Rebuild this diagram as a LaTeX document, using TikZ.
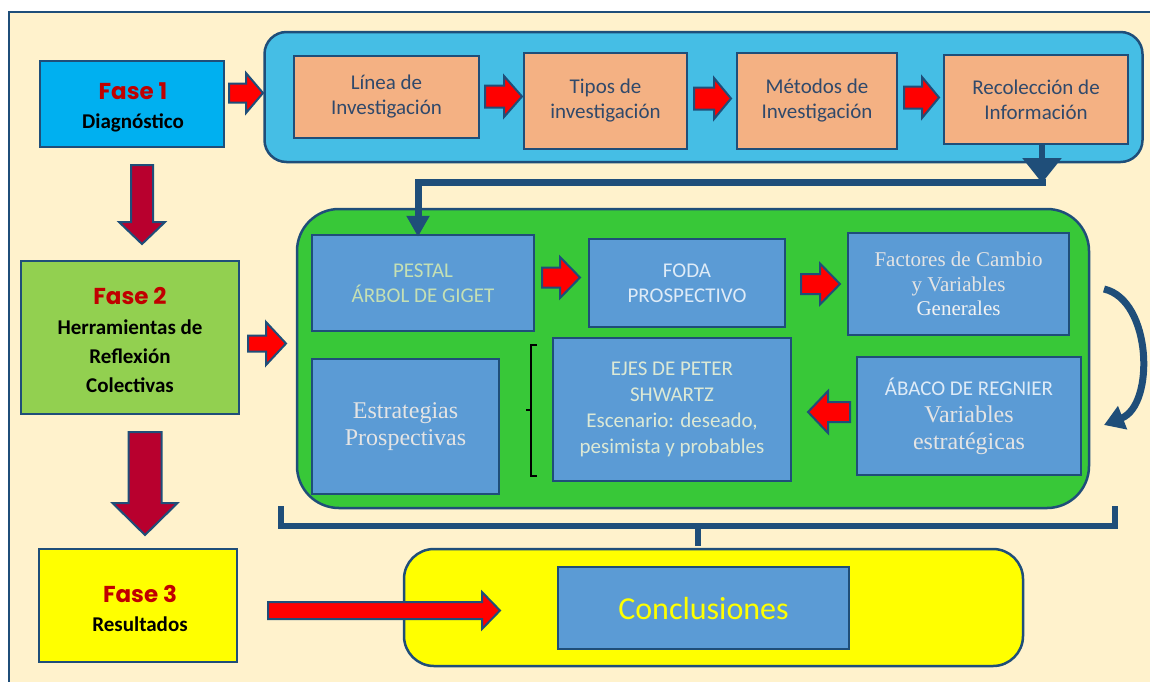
\documentclass[tikz,border=0pt]{standalone}
\usepackage{fontspec}
\setmainfont{Carlito}
\newfontfamily\serifx{Liberation Serif}
\newfontfamily\comicx{Poppins}
\usetikzlibrary{arrows.meta}
\definecolor{cream}{HTML}{FFF2CC}
\definecolor{dblue}{HTML}{1F4E79}
\definecolor{faseone}{HTML}{00B0F0}
\definecolor{fasetwo}{HTML}{92D050}
\definecolor{yel}{HTML}{FFFF00}
\definecolor{grpblue}{HTML}{45BEE5}
\definecolor{orangebox}{HTML}{F4B183}
\definecolor{grpgreen}{HTML}{38C838}
\definecolor{boxblue}{HTML}{5B9BD5}
\definecolor{darkred}{HTML}{B8002E}
\definecolor{redfill}{HTML}{FF0000}
\definecolor{fasered}{HTML}{C00000}
\definecolor{toptext}{HTML}{30496B}
\definecolor{greentext}{HTML}{C5E0B4}
\definecolor{lighttext}{HTML}{DEEBF7}
\definecolor{greytext}{HTML}{E4E4E4}
\definecolor{ejestext}{HTML}{DCE9D5}
\newcommand{\harrow}[7][redfill]{%
  \draw[blockarrow, fill=#1] (#2,{#4-(#5)}) -- ({#3-(#7)},{#4-(#5)}) -- ({#3-(#7)},{#4-(#6)}) -- (#3,#4) -- ({#3-(#7)},{#4+(#6)}) -- ({#3-(#7)},{#4+(#5)}) -- (#2,{#4+(#5)}) -- cycle;}
\newcommand{\varrow}[6]{%
  \draw[blockarrow, fill=darkred] ({#1-(#4)},#2) -- ({#1+(#4)},#2) -- ({#1+(#4)},{#3-(#6)}) -- ({#1+(#5)},{#3-(#6)}) -- (#1,#3) -- ({#1-(#5)},{#3-(#6)}) -- ({#1-(#4)},{#3-(#6)}) -- cycle;}
\begin{document}
\begin{tikzpicture}[x=1pt,y=-1pt,
  box/.style={draw=dblue, line width=2.5pt, inner sep=0pt, align=center},
  group/.style={draw=dblue, line width=2.5pt, inner sep=0pt},
  blockarrow/.style={draw=dblue, line width=2pt, line join=miter},
  conn/.style={draw=dblue, line width=7pt},
  calib/.style={font=\fontsize{21}{25}\selectfont},
  fasebox/.style={box, font=\fontsize{21}{29}\selectfont\bfseries, text=black},
  fasetxt/.style={inner sep=0pt, align=center, font=\fontsize{21}{29}\selectfont\bfseries, text=black}]
\useasboundingbox (0,0) rectangle (1150,681);
\fill[white] (0,0) rectangle (1150,681);
\draw[dblue, line width=2.5pt, fill=cream] (9,12) rectangle (1165,695);

% groups
\node[group, fill=grpblue, rounded corners=22pt, minimum width=878pt, minimum height=130pt] (g1) at (703.5,97) {};
\node[group, fill=grpgreen, rounded corners=42pt, minimum width=792pt, minimum height=299pt] (g2) at (693,358.5) {};
\node[group, fill=yel, rounded corners=30pt, minimum width=619pt, minimum height=117pt] (g3) at (713.5,607.5) {};

% phase boxes
\node[box, fill=faseone, minimum width=184pt, minimum height=86pt] (f1) at (132,104) {};
\node[fasetxt] (f1t) at (133,107)
  {{\comicx\bfseries\fontsize{23}{29}\selectfont\color{fasered}Fase 1}\\Diagnóstico};
\node[box, fill=fasetwo, minimum width=218pt, minimum height=153pt] (f2) at (130,337.5) {};
\node[fasetxt] (f2t) at (130,340)
  {{\comicx\bfseries\fontsize{23}{29}\selectfont\color{fasered}Fase 2}\\[1pt]Herramientas de\\Reflexión\\Colectivas};
\node[box, fill=yel, minimum width=198pt, minimum height=113pt] (f3) at (138,605.5) {};
\node[fasetxt] (f3t) at (140,608)
  {{\comicx\bfseries\fontsize{23}{29}\selectfont\color{fasered}Fase 3}\\Resultados};

% top row
\node[box, calib, fill=orangebox, text=toptext, minimum width=185pt, minimum height=82pt] (b1) at (386.5,97) {Línea de\\Investigación};
\node[box, calib, fill=orangebox, text=toptext, minimum width=163pt, minimum height=96pt] (b2) at (605.5,101) {Tipos de\\investigación};
\node[box, calib, fill=orangebox, text=toptext, minimum width=160pt, minimum height=96pt] (b3) at (817,101) {Métodos de\\Investigación};
\node[box, calib, fill=orangebox, text=toptext, minimum width=184pt, minimum height=89pt] (b4) at (1036,99.5) {Recolección de\\Información};

% green group boxes
\node[box, calib, fill=boxblue, text=greentext, minimum width=222pt, minimum height=96pt] (pestal) at (423,283) {PESTAL\\ÁRBOL DE GIGET};
\node[box, calib, fill=boxblue, text=lighttext, minimum width=196pt, minimum height=88pt] (foda) at (687,283) {FODA\\PROSPECTIVO};
\node[box, fill=boxblue, text=greytext, font=\serifx\fontsize{21}{24.5}\selectfont, minimum width=221pt, minimum height=102pt] (fact) at (958.5,284)
  {Factores de Cambio\\y Variables\\{\color{white!95!black}Generales}};
\node[box, fill=boxblue, text=greytext, font=\serifx\fontsize{24}{27}\selectfont, minimum width=224pt, minimum height=118pt] (abaco) at (969,416)
  {{\normalfont\fontsize{21}{27}\selectfont\color{lighttext}ÁBACO DE REGNIER}\\Variables\\estratégicas};
\node[box, calib, fill=boxblue, text=ejestext, font=\fontsize{21}{26}\selectfont, minimum width=238pt, minimum height=143pt] (ejes) at (672,409.5)
  {EJES DE PETER\\SHWARTZ\\Escenario: deseado,\\pesimista y probables};
\node[box, fill=boxblue, text=greytext, font=\serifx\fontsize{24}{27}\selectfont, minimum width=187pt, minimum height=135pt] (estr) at (405.5,426.5)
  {Estrategias\\Prospectivas};

% conclusions
\node[box, fill=boxblue, text=yel, font=\fontsize{32}{36}\selectfont, minimum width=291pt, minimum height=82pt] (concl) at (703.5,608) {Conclusiones};

% red block arrows
\harrow{229}{263}{93}{9.5}{20}{17}
\harrow{485}{522}{96.5}{11}{20.5}{18}
\harrow{694}{731}{98.5}{11}{20.5}{17}
\harrow{904}{939}{97.5}{11}{20.5}{17}
\harrow{542}{580}{277.5}{10}{20.5}{20}
\harrow{801}{840}{284}{10}{20.5}{20}
\harrow{850}{808}{412}{10}{21}{-20}
\harrow{248}{286}{343.5}{8}{21.5}{20}
\harrow{268}{500}{610.5}{8.5}{18.5}{18}

% dark red down arrows
\varrow{142}{165}{244}{11}{23}{22}
\varrow{145}{432}{535}{16.5}{32.5}{32}

% connector from top group to green group
\coordinate (eR) at (1042,182);
\coordinate (eL) at (418,182);
\draw[dblue, line width=6pt, -{Triangle[width=38pt,length=25pt]}] ([xshift=6pt]b4.south) -- ([yshift=-1pt]eR);
\draw[conn, line join=miter, -{Triangle[width=22pt,length=21pt]}] ([xshift=3.5pt]eR) -- (eL) -- ([xshift=-5pt,yshift=-3pt]pestal.north);

% curved arrow on the right
\coordinate (cs) at (1104,289);
\coordinate (ce) at (1104,425);
\draw[dblue, line width=7pt, -{Triangle[width=24pt,length=20pt]}] (cs) .. controls (1152,300) and (1155,405) .. (ce);

% bracket near EJES
\draw[black, line width=2.5pt] (537,345) -- (531,345) -- (531,476) -- (537,476);
\draw[black, line width=2.5pt] (531,410) -- (526,410);

% brace below green group
\coordinate (brL) at (281,506);
\coordinate (brR) at (1115,506);
\coordinate (brM) at (698,546);
\draw[dblue, line width=6pt, line join=miter] (brL) -- (281,525.5) -- (1115,525.5) -- (brR);
\draw[dblue, line width=6pt] (698,525) -- (brM);
\end{tikzpicture}
\end{document}
